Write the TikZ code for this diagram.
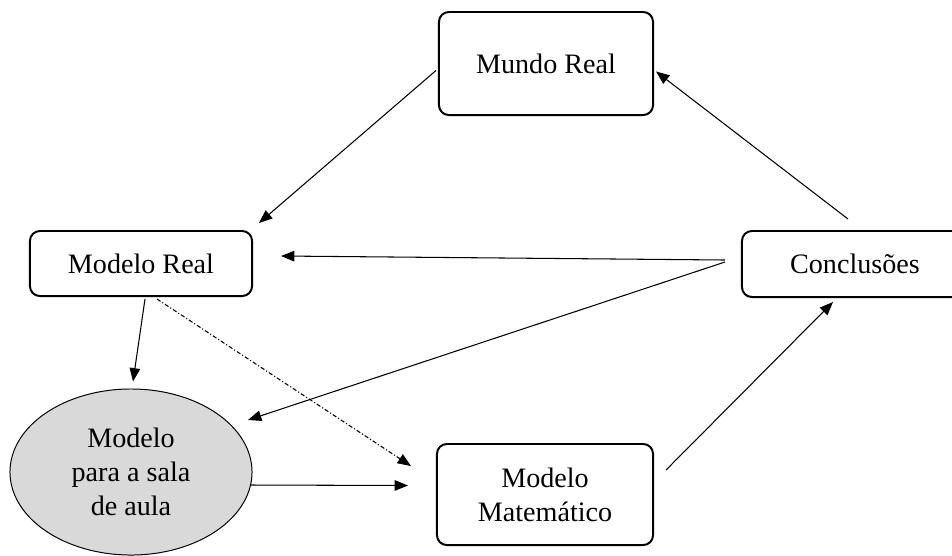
\documentclass[tikz,border=0pt]{standalone}
\usepackage{fontspec}
\setmainfont{Liberation Serif}
\usepackage{xcolor}
\definecolor{salagray}{RGB}{217, 217, 217}
\usepackage{tikz}
\usetikzlibrary{arrows.meta, positioning, calc, shapes.geometric}

\begin{document}
\begin{tikzpicture}[x=0.025cm, y=-0.025cm, >={Triangle[length=9.5pt, width=7.5pt]},
    caixa/.style={draw, line width=1.4pt, rounded corners=7pt, align=center, inner sep=0pt},
    seta/.style={->, line width=0.75pt},
    every node/.style={font=\fontsize{20}{24}\selectfont}]
    \useasboundingbox (0,0) rectangle (952,555);
    \node[caixa, minimum width=5.35cm, minimum height=2.575cm] (mundo) at (546,63.5) {Mundo Real};
    \node[caixa, minimum width=5.55cm, minimum height=1.625cm] (mreal) at (141,263.5) {Modelo Real};
    \node[caixa, minimum width=5.65cm, minimum height=1.65cm] (concl) at (855,264) {Conclusões};
    \node[caixa, minimum width=5.4cm, minimum height=2.525cm] (mmat) at (545,494.5) {Modelo\\Matemático};
    \node[ellipse, draw, line width=0.7pt, fill=salagray, minimum width=6.05cm, minimum height=4.15cm,
          inner sep=0pt, align=center] (psala) at (131,472) {Modelo\\para a sala\\de aula};
    \draw[seta] ($(mundo.west)+(-2,7)$) -- ($(mreal.north east)+(6,-7)$);
    \draw[seta] ($(concl.north)+(-7,-11)$) -- ($(mundo.east)+(2,8)$);
    \draw[seta] ($(concl.west)+(-16,-4)$) -- ($(mreal.east)+(28,-7.5)$);
    \draw[seta] ($(concl.west)+(-16,-2)$) -- ($(psala.center)+(117,-52)$);
    \draw[seta] ($(mreal.south)+(4,2)$) -- ($(psala.north)+(2,-7)$);
    \draw[seta, dash pattern=on 3pt off 1.5pt on 0.8pt off 1.5pt] ($(mreal.south)+(16,2)$) -- ($(mmat.west)+(-25,-28.5)$);
    \draw[seta] ($(psala.center)+(120,13)$) -- ($(mmat.west)+(-28,-9)$);
    \draw[seta] ($(mmat.east)+(12,-24.5)$) -- ($(concl.south)+(-22,4)$);
\end{tikzpicture}
\end{document}
